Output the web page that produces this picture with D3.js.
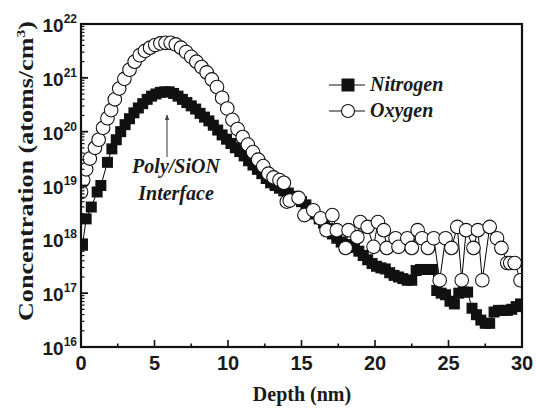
<!doctype html>
<html lang="en">
<head>
    <meta charset="utf-8">
    <title>SIMS depth profile</title>
    <script src="https://cdn.jsdelivr.net/npm/d3@7"></script>
    <style>
        body { margin: 0; background: #fff; }
        svg { display: block; }
        .tick-label { font-family: "Liberation Sans", Arial, sans-serif; font-weight: bold; fill: #1a1a1a; }
        .serif { font-family: "Liberation Serif", "Times New Roman", serif; font-weight: bold; fill: #1a1a1a; }
    </style>
</head>
<body>
    <svg></svg>
    <script>
        var width = 536;
        var height = 410;

        // depth (nm) and log10 of concentration (atoms/cm^3)
        var nitrogenDepth = [0.1, 0.35, 0.7, 1.1, 1.35, 1.8, 2.1, 2.4, 2.7, 3.0, 3.3, 3.6, 3.9, 4.2, 4.5, 4.8, 5.1, 5.4, 5.7, 6.0,
            6.3, 6.6, 6.9, 7.2, 7.5, 7.8, 8.1, 8.4, 8.7, 9.0, 9.3, 9.6, 9.9, 10.2, 10.5, 10.8, 11.1, 11.4, 11.7, 12.0,
            12.3, 12.6, 12.9, 13.2, 13.5, 13.8, 14.1, 14.4, 14.7, 15.0, 15.3, 15.6, 15.9, 16.2, 16.5, 16.8, 17.1, 17.4, 17.7, 18.0,
            18.3, 18.6, 18.9, 19.2, 19.5, 19.8, 20.1, 20.4, 20.7, 21.0, 21.3, 21.6, 21.9, 22.2, 22.5, 22.8, 23.1, 23.5, 23.9, 24.2,
            24.5, 24.8, 25.1, 25.4, 25.7, 26.0, 26.3, 26.6, 26.9, 27.2, 27.5, 27.8, 28.1, 28.4, 28.7, 29.0, 29.3, 29.6, 29.9];
        var nitrogenLog = [17.89, 18.38, 18.6, 18.88, 19.0, 19.43, 19.68, 19.85, 20.0, 20.13, 20.24, 20.35, 20.44, 20.52, 20.6, 20.66, 20.7, 20.73, 20.74, 20.74,
            20.71, 20.66, 20.6, 20.54, 20.48, 20.42, 20.34, 20.27, 20.2, 20.12, 20.03, 19.94, 19.86, 19.78, 19.7, 19.63, 19.55, 19.46, 19.38, 19.3,
            19.22, 19.13, 19.05, 19.0, 18.95, 18.9, 18.86, 18.8, 18.75, 18.7, 18.64, 18.55, 18.47, 18.38, 18.3, 18.2, 18.1, 18.02, 17.95, 17.9,
            17.9, 17.85, 17.78, 17.7, 17.62, 17.55, 17.5, 17.47, 17.45, 17.38, 17.33, 17.3, 17.27, 17.24, 17.24, 17.42, 17.44, 17.44, 17.44, 17.05,
            17.0, 16.97, 16.85, 16.8, 17.0, 17.02, 17.02, 16.72, 16.6, 16.5, 16.44, 16.44, 16.65, 16.68, 16.68, 16.68, 16.7, 16.75, 16.8];

        var oxygenDepth = [0.0, 0.15, 0.35, 0.6, 0.95, 1.2, 1.5, 1.8, 2.05, 2.3, 2.6, 2.95, 3.3, 3.65, 4.0, 4.35, 4.7, 5.05, 5.4, 5.75,
            6.1, 6.45, 6.8, 7.15, 7.5, 7.85, 8.2, 8.55, 8.9, 9.25, 9.6, 9.95, 10.3, 10.65, 11.0, 11.35, 11.7, 12.05, 12.4, 12.75,
            13.1, 13.5, 13.8, 14.0, 14.2, 14.8, 15.2, 15.8, 16.3, 16.7, 17.1, 17.4, 18.0, 18.2, 18.8, 19.0, 19.5, 19.9, 20.2, 20.6,
            20.8, 21.4, 21.6, 22.2, 22.5, 22.9, 23.2, 23.6, 24.0, 24.4, 24.8, 25.2, 25.6, 25.9, 26.2, 26.7, 27.0, 27.3, 27.8, 28.3,
            28.6, 29.0, 29.2, 29.5, 29.9];
        var oxygenLog = [18.88, 19.1, 19.3, 19.5, 19.7, 19.85, 20.07, 20.25, 20.4, 20.6, 20.8, 20.98, 21.15, 21.3, 21.42, 21.5, 21.56, 21.61, 21.64, 21.65,
            21.65, 21.62, 21.56, 21.48, 21.39, 21.3, 21.2, 21.1, 20.97, 20.83, 20.63, 20.43, 20.22, 20.05, 19.9, 19.76, 19.62, 19.48, 19.36, 19.22,
            19.15, 19.1, 19.05, 18.7, 18.72, 18.77, 18.45, 18.54, 18.39, 18.17, 18.45, 18.17, 17.84, 18.17, 18.04, 18.32, 18.23, 17.86, 18.32, 18.17,
            17.84, 18.02, 17.86, 18.02, 17.84, 18.17, 18.02, 17.84, 18.02, 17.24, 18.02, 17.84, 18.23, 17.24, 18.17, 17.84, 18.17, 17.24, 18.23, 18.02,
            17.84, 17.56, 17.56, 17.56, 17.24];

        var xTicks = [0, 5, 10, 15, 20, 25, 30];
        var yExponents = [16, 17, 18, 19, 20, 21, 22];

        var plotLeft = 81, plotRight = 522, plotTop = 24, plotBottom = 347;

        var svg = d3.select('svg').attr("width", width).attr("height", height);

        var xScale = d3.scaleLinear().domain([0, 30]).range([plotLeft, plotRight]);
        var yScale = d3.scaleLog().domain([1e16, 1e22]).range([plotBottom, plotTop]);

        var nitrogen = nitrogenDepth.map(function (d, i) { return { x: d, y: Math.pow(10, nitrogenLog[i]) }; });
        var oxygen = oxygenDepth.map(function (d, i) { return { x: d, y: Math.pow(10, oxygenLog[i]) }; });

        svg.append("clipPath").attr("id", "plot")
            .append("rect")
            .attr("x", plotLeft).attr("y", plotTop)
            .attr("width", plotRight - plotLeft).attr("height", plotBottom - plotTop);

        var line = d3.line()
            .x(function (d) { return xScale(d.x); })
            .y(function (d) { return yScale(d.y); });

        var plot = svg.append("g").attr("clip-path", "url(#plot)");

        // nitrogen: filled squares joined by a thin line
        plot.append("path")
            .datum(nitrogen)
            .attr("d", line)
            .attr("fill", "none")
            .attr("stroke", "#000")
            .attr("stroke-width", 1);

        var sq = 11;
        plot.selectAll("rect.n")
            .data(nitrogen)
            .enter()
            .append("rect")
            .attr("class", "n")
            .attr("x", function (d) { return xScale(d.x) - sq / 2; })
            .attr("y", function (d) { return yScale(d.y) - sq / 2; })
            .attr("width", sq)
            .attr("height", sq)
            .attr("fill", "#111");

        // oxygen: open circles joined by a thin line
        plot.append("path")
            .datum(oxygen)
            .attr("d", line)
            .attr("fill", "none")
            .attr("stroke", "#000")
            .attr("stroke-width", 1);

        plot.selectAll("circle.o")
            .data(oxygen)
            .enter()
            .append("circle")
            .attr("class", "o")
            .attr("cx", function (d) { return xScale(d.x); })
            .attr("cy", function (d) { return yScale(d.y); })
            .attr("r", 6.8)
            .attr("fill", "#fff")
            .attr("stroke", "#111")
            .attr("stroke-width", 1.1);

        // frame
        svg.append("rect")
            .attr("x", plotLeft).attr("y", plotTop)
            .attr("width", plotRight - plotLeft).attr("height", plotBottom - plotTop)
            .attr("fill", "none")
            .attr("stroke", "#111")
            .attr("stroke-width", 2.2);

        // x ticks (inward), minor at half steps
        var xMinor = d3.range(2.5, 30, 5);
        svg.selectAll("line.xt")
            .data(xTicks.concat(xMinor))
            .enter()
            .append("line")
            .attr("x1", function (d) { return xScale(d); })
            .attr("x2", function (d) { return xScale(d); })
            .attr("y1", plotBottom)
            .attr("y2", function (d) { return plotBottom - (d % 5 === 0 ? 7 : 3.5); })
            .attr("stroke", "#111")
            .attr("stroke-width", 1.6);

        svg.selectAll("text.xl")
            .data(xTicks)
            .enter()
            .append("text")
            .attr("class", "tick-label")
            .attr("x", function (d) { return xScale(d); })
            .attr("y", 370)
            .attr("text-anchor", "middle")
            .attr("font-size", "20px")
            .text(function (d) { return d; });

        // y ticks: decades and 2..9 minors
        var yMinor = [];
        yExponents.slice(0, -1).forEach(function (e) {
            for (var m = 2; m <= 9; m++) yMinor.push(m * Math.pow(10, e));
        });
        svg.selectAll("line.ym")
            .data(yMinor)
            .enter()
            .append("line")
            .attr("x1", plotLeft).attr("x2", plotLeft + 3.5)
            .attr("y1", function (d) { return yScale(d); })
            .attr("y2", function (d) { return yScale(d); })
            .attr("stroke", "#111")
            .attr("stroke-width", 1.2);

        svg.selectAll("line.yt")
            .data(yExponents)
            .enter()
            .append("line")
            .attr("x1", plotLeft).attr("x2", plotLeft + 7)
            .attr("y1", function (d) { return yScale(Math.pow(10, d)); })
            .attr("y2", function (d) { return yScale(Math.pow(10, d)); })
            .attr("stroke", "#111")
            .attr("stroke-width", 1.8);

        var yl = svg.selectAll("text.yl")
            .data(yExponents)
            .enter()
            .append("text")
            .attr("class", "tick-label")
            .attr("x", 77)
            .attr("y", function (d) { return yScale(Math.pow(10, d)) + 8; })
            .attr("text-anchor", "end");
        yl.append("tspan").attr("font-size", "19px").text("10");
        yl.append("tspan").attr("font-size", "12px").attr("dy", -9).text(function (d) { return d; });

        // axis titles
        svg.append("text")
            .attr("class", "serif")
            .attr("x", 302)
            .attr("y", 401)
            .attr("text-anchor", "middle")
            .attr("font-size", "20px")
            .text("Depth (nm)");

        var yTitle = svg.append("text")
            .attr("class", "serif")
            .attr("transform", "translate(33,171) rotate(-90)")
            .attr("text-anchor", "middle")
            .attr("font-size", "20px")
            .attr("textLength", 300)
            .attr("lengthAdjust", "spacingAndGlyphs");
        yTitle.append("tspan").text("Concentration (atoms/cm");
        yTitle.append("tspan").attr("font-size", "12px").attr("dy", -8).text("3");
        yTitle.append("tspan").attr("dy", 8).text(")");

        // legend
        var legend = svg.append("g");
        legend.append("line").attr("x1", 329).attr("x2", 365).attr("y1", 85).attr("y2", 85)
            .attr("stroke", "#111").attr("stroke-width", 1);
        legend.append("rect").attr("x", 348 - 6.5).attr("y", 85 - 6.5).attr("width", 13).attr("height", 13).attr("fill", "#111");
        legend.append("text").attr("class", "serif").attr("x", 370).attr("y", 91)
            .attr("font-size", "20px").attr("font-style", "italic").text("Nitrogen");
        legend.append("line").attr("x1", 329).attr("x2", 365).attr("y1", 111).attr("y2", 111)
            .attr("stroke", "#111").attr("stroke-width", 1);
        legend.append("circle").attr("cx", 348).attr("cy", 111).attr("r", 6.5)
            .attr("fill", "#fff").attr("stroke", "#111").attr("stroke-width", 1.1);
        legend.append("text").attr("class", "serif").attr("x", 370).attr("y", 117)
            .attr("font-size", "20px").attr("font-style", "italic").text("Oxygen");

        // interface annotation
        svg.append("defs").append("marker")
            .attr("id", "arrow")
            .attr("viewBox", "0 0 10 10")
            .attr("refX", 9).attr("refY", 5)
            .attr("markerWidth", 5).attr("markerHeight", 7)
            .attr("orient", "auto")
            .append("path").attr("d", "M0,1 L10,5 L0,9 Z").attr("fill", "#444");
        svg.append("line")
            .attr("x1", 167).attr("x2", 167)
            .attr("y1", 157).attr("y2", 115)
            .attr("stroke", "#555").attr("stroke-width", 1.2)
            .attr("marker-end", "url(#arrow)");
        svg.append("text").attr("class", "serif").attr("x", 176).attr("y", 173)
            .attr("text-anchor", "middle").attr("font-size", "20px").attr("font-style", "italic")
            .text("Poly/SiON");
        svg.append("text").attr("class", "serif").attr("x", 176).attr("y", 200)
            .attr("text-anchor", "middle").attr("font-size", "20px").attr("font-style", "italic")
            .text("Interface");
    </script>
</body>
</html>
